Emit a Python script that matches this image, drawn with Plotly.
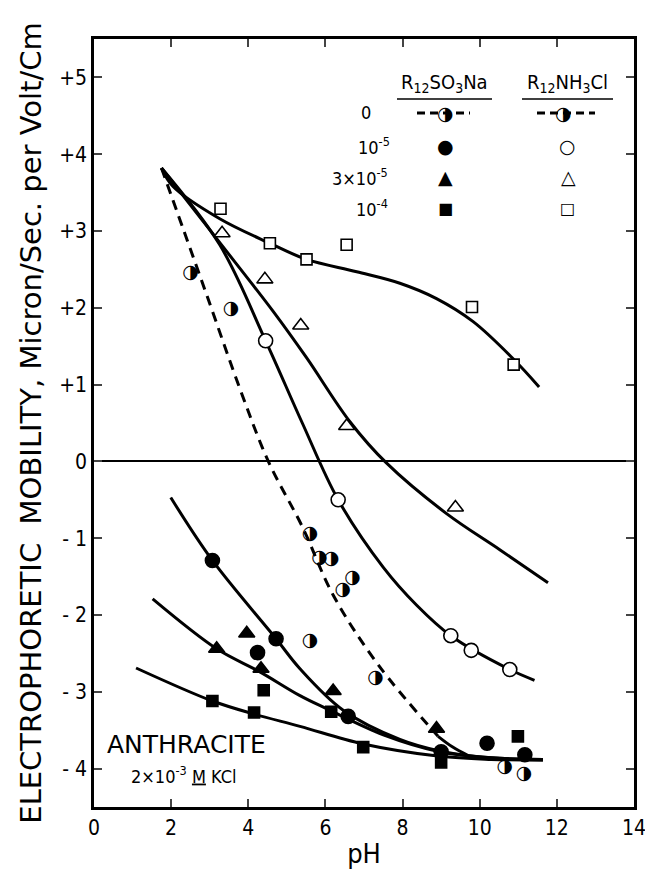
import plotly.graph_objects as go

# ---------------- data ----------------
# collector-free (0) : half-filled circles, dashed curve
ph_blank = [2.5, 3.55, 5.6, 5.85, 6.15, 6.45, 6.7, 5.6, 7.3, 10.65, 11.15]
mob_blank = [2.45, 1.98, -0.95, -1.26, -1.28, -1.68, -1.52, -2.34, -2.83, -3.98, -4.08]
curve_blank_x = [1.75, 2.31, 2.92, 3.78, 4.52, 5.4, 6.2, 7.37, 8.92]
curve_blank_y = [3.82, 3.03, 2.17, 0.95, 0.0, -0.85, -1.74, -2.65, -3.58]
tail_blank_x = [8.92, 9.3, 9.7]
tail_blank_y = [-3.58, -3.72, -3.83]

# R12SO3Na
so3_1e5_x = [3.07, 4.72, 4.24, 6.59, 9.0, 10.19, 11.17]
so3_1e5_y = [-1.29, -2.31, -2.49, -3.32, -3.78, -3.67, -3.82]
so3_3e5_x = [3.18, 3.96, 4.33, 6.2, 8.88]
so3_3e5_y = [-2.44, -2.24, -2.7, -2.99, -3.48]
so3_1e4_x = [3.07, 4.15, 4.4, 6.15, 6.98, 9.0, 10.99]
so3_1e4_y = [-3.12, -3.27, -2.98, -3.26, -3.72, -3.92, -3.58]

curve_so3_1e5_x = [1.99, 3.07, 4.72, 5.34, 6.46, 7.93, 8.96, 10.3, 11.64]
curve_so3_1e5_y = [-0.47, -1.29, -2.31, -2.7, -3.24, -3.62, -3.77, -3.86, -3.88]
curve_so3_3e5_x = [1.52, 3.18, 4.3, 5.34, 6.03, 7.5, 8.96, 10.3, 11.64]
curve_so3_3e5_y = [-1.79, -2.44, -2.74, -3.05, -3.22, -3.56, -3.78, -3.86, -3.88]
curve_so3_1e4_x = [1.09, 3.07, 4.15, 5.34, 6.98, 8.96, 10.3, 11.64]
curve_so3_1e4_y = [-2.69, -3.12, -3.29, -3.45, -3.68, -3.84, -3.88, -3.89]

# R12NH3Cl
nh3_1e5_x = [4.45, 6.33, 9.25, 9.78, 10.78]
nh3_1e5_y = [1.57, -0.5, -2.27, -2.46, -2.71]
nh3_3e5_x = [3.32, 4.43, 5.36, 6.55, 9.37]
nh3_3e5_y = [2.97, 2.37, 1.77, 0.46, -0.6]
nh3_1e4_x = [3.28, 4.56, 5.51, 6.55, 9.8, 10.88]
nh3_1e4_y = [3.29, 2.84, 2.63, 2.82, 2.01, 1.26]

curve_nh3_1e5_x = [1.75, 3.26, 4.45, 5.4, 6.33, 7.5, 8.36, 9.25, 10.78, 11.42]
curve_nh3_1e5_y = [3.82, 2.82, 1.57, 0.5, -0.5, -1.38, -1.87, -2.27, -2.71, -2.85]
curve_nh3_3e5_x = [1.75, 3.18, 4.65, 5.51, 6.63, 7.58, 9.14, 10.52, 11.77]
curve_nh3_3e5_y = [3.82, 2.9, 1.95, 1.35, 0.52, -0.02, -0.68, -1.15, -1.58]
curve_nh3_1e4_x = [1.75, 2.05, 3.26, 4.56, 5.51, 6.81, 7.93, 8.88, 9.83, 10.86, 11.54]
curve_nh3_1e4_y = [3.82, 3.58, 3.16, 2.84, 2.63, 2.47, 2.32, 2.12, 1.82, 1.34, 0.97]

x_ticks = [0, 2, 4, 6, 8, 10, 12, 14]
y_ticks = [-4, -3, -2, -1, 0, 1, 2, 3, 4, 5]
y_ticktext = ["- 4", "- 3", "- 2", "- 1", "0", "+1", "+2", "+3", "+4", "+5"]

FONT = "DejaVu Sans Condensed"
BLACK = "black"

fig = go.Figure()

def curve(x, y, dash="solid"):
    fig.add_trace(go.Scatter(x=x, y=y, mode="lines", line_shape="spline",
                             line=dict(color=BLACK, width=3, dash=dash),
                             hoverinfo="skip", showlegend=False))

curve(curve_blank_x, curve_blank_y, dash="10px,7px")
curve(tail_blank_x, tail_blank_y)
curve(curve_so3_1e5_x, curve_so3_1e5_y)
curve(curve_so3_3e5_x, curve_so3_3e5_y)
curve(curve_so3_1e4_x, curve_so3_1e4_y)
curve(curve_nh3_1e5_x, curve_nh3_1e5_y)
curve(curve_nh3_3e5_x, curve_nh3_3e5_y)
curve(curve_nh3_1e4_x, curve_nh3_1e4_y)

def pts(x, y, symbol, size, fill):
    fig.add_trace(go.Scatter(x=x, y=y, mode="markers",
                             marker=dict(symbol=symbol, size=size, color=fill,
                                         line=dict(color=BLACK, width=1.6)),
                             showlegend=False))

pts(so3_1e5_x, so3_1e5_y, "circle", 14, BLACK)
pts(so3_3e5_x, so3_3e5_y, "triangle-up", 14, BLACK)
pts(so3_1e4_x, so3_1e4_y, "square", 11, BLACK)
pts(nh3_1e5_x, nh3_1e5_y, "circle", 14, "white")
pts(nh3_3e5_x, nh3_3e5_y, "triangle-up", 14, "white")
pts(nh3_1e4_x, nh3_1e4_y, "square", 11, "white")

# half-filled circles as glyphs
fig.add_trace(go.Scatter(x=ph_blank, y=mob_blank, mode="text", text=["◑"] * len(ph_blank),
                         textposition="middle center",
                         textfont=dict(family="DejaVu Sans", size=19, color=BLACK),
                         showlegend=False))

# ---------------- custom legend ----------------
def px_x(p):
    return (p - 94) / 540.0

def px_y(p):
    return (807 - p) / 768.0

ann = []
def text(px, py, s, size, family=FONT, xanchor="center"):
    ann.append(dict(x=px_x(px), y=px_y(py), xref="paper", yref="paper", text=s,
                    showarrow=False, xanchor=xanchor, yanchor="middle",
                    font=dict(family=family, size=size, color=BLACK)))

text(444, 83, "R<sub>12</sub>SO<sub>3</sub>Na", 20)
text(567, 83, "R<sub>12</sub>NH<sub>3</sub>Cl", 20)
rows_y = [113, 146, 177, 208]
text(366, rows_y[0], "0", 18)
text(374, rows_y[1], "10<sup>-5</sup>", 18)
text(360, rows_y[2], "3×10<sup>-5</sup>", 18)
text(372, rows_y[3], "10<sup>-4</sup>", 18)
glyph = "DejaVu Sans"
text(445, rows_y[0], "◑", 19, glyph)
text(563, rows_y[0], "◑", 19, glyph)
text(445, rows_y[1], "●", 19, glyph)
text(567, rows_y[1], "○", 19, glyph)
text(445, rows_y[2], "▲", 19, glyph)
text(568, rows_y[2], "△", 19, glyph)
text(445, rows_y[3], "■", 16, glyph)
text(567, rows_y[3], "□", 16, glyph)

text(186, 744, "ANTHRACITE", 25, "DejaVu Sans")
text(184, 775, "2×10<sup>-3</sup> <span style='text-decoration:underline'>M</span> KCl", 18)

shapes = []
for x0, x1 in [(397, 492), (522, 613)]:
    shapes.append(dict(type="line", xref="paper", yref="paper", x0=px_x(x0), x1=px_x(x1),
                       y0=px_y(99), y1=px_y(99), line=dict(color=BLACK, width=1.6)))
for x0, x1 in [(417, 470), (537, 595)]:
    shapes.append(dict(type="line", xref="paper", yref="paper", x0=px_x(x0), x1=px_x(x1),
                       y0=px_y(rows_y[0]), y1=px_y(rows_y[0]),
                       line=dict(color=BLACK, width=3, dash="8px,5px")))

fig.update_layout(
    width=645, height=883,
    margin=dict(l=94, r=11, t=39, b=76),
    paper_bgcolor="white", plot_bgcolor="white",
    annotations=ann, shapes=shapes,
    font=dict(family=FONT, color=BLACK),
    xaxis=dict(range=[0, 14], tickvals=x_ticks, ticks="inside", ticklen=8, tickwidth=2,
               showline=True, linecolor=BLACK, linewidth=2.5, mirror="ticks",
               showgrid=False, zeroline=False, tickfont=dict(size=21, family=FONT),
               automargin=False, ticklabeloverflow="allow",
               title=dict(text="pH", font=dict(size=27, family=FONT), standoff=6)),
    yaxis=dict(range=[-4.5, 5.5], tickvals=y_ticks, ticktext=y_ticktext, ticks="inside",
               ticklen=8, tickwidth=2, showline=True, linecolor=BLACK, linewidth=2.5,
               mirror="ticks", showgrid=False, zeroline=True, zerolinecolor=BLACK,
               zerolinewidth=1.5, tickfont=dict(size=21, family=FONT), automargin=False,
               ticklabeloverflow="allow",
               title=dict(text="ELECTROPHORETIC  MOBILITY, Micron/Sec. per Volt/Cm",
                          font=dict(size=29, family="DejaVu Sans"), standoff=10)),
)

fig.write_html("out.html", config={"displayModeBar": False},
               post_script="document.body.style.margin='0';")
